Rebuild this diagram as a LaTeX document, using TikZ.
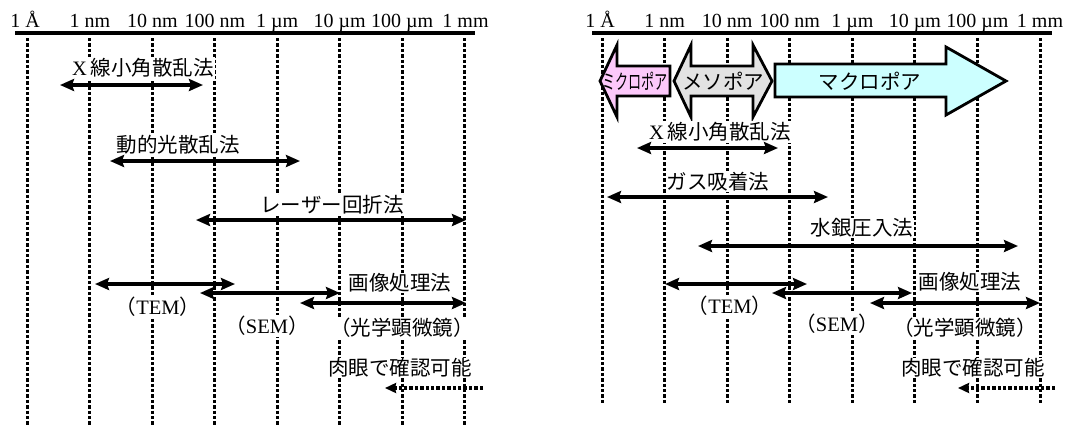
\documentclass[tikz,border=0pt]{standalone}
\usepackage{fontspec}
\setmainfont{Liberation Serif}
\newfontfamily\lat{Liberation Serif}
\newfontfamily\jp{Noto Sans CJK JP}
\usetikzlibrary{arrows.meta}
\definecolor{microc}{RGB}{252,200,250}
\definecolor{mesoc}{RGB}{226,226,226}
\definecolor{macroc}{RGB}{204,255,255}
\begin{document}
\begin{tikzpicture}[x=1bp,y=-1bp,
  grid/.style={line width=3.6bp, dash pattern=on 3.4bp off 2bp},
  axisline/.style={line width=4bp},
  ticklab/.style={anchor=base, inner sep=0pt, font=\fontsize{20bp}{24bp}\selectfont},
  lab/.style={fill=white, inner sep=1bp, font=\jp\fontsize{20.5bp}{24bp}\selectfont},
  blab/.style={inner sep=0pt, font=\jp\fontsize{20.5bp}{24bp}\selectfont},
  rng/.style={line width=3.8bp, {Stealth[length=14bp,width=12bp,inset=2bp]}-{Stealth[length=14bp,width=12bp,inset=2bp]}},
  eye/.style={line width=3.6bp, dash pattern=on 3.4bp off 2bp, -{Stealth[length=11bp,width=10bp,inset=1bp]}},
  blk/.style={line width=2.8bp, line join=miter},
]
\useasboundingbox (0,0) rectangle (1067,430);

% ---------- left panel ----------
\coordinate (LA0) at (15,33); \coordinate (LA1) at (475,33);
\draw[axisline] (LA0) -- (LA1);
\foreach \x [count=\i] in {27.5,89.5,152.5,214.5,277.5,339.5,402.5,464.5}{
  \coordinate (Lt\i) at (\x,38); \coordinate (Lb\i) at (\x,425);
  \draw[grid] (Lt\i) -- (Lb\i);
}
\node[ticklab] (Ll1) at (25,27) {1 Å};
\node[ticklab] (Ll2) at (89.9,27) {1 nm};
\node[ticklab] (Ll3) at (152.3,27) {10 nm};
\node[ticklab] (Ll4) at (214.8,27) {100 nm};
\node[ticklab] (Ll5) at (277.2,27) {1 µm};
\node[ticklab] (Ll6) at (339.6,27) {10 µm};
\node[ticklab] (Ll7) at (402.1,27) {100 µm};
\node[ticklab] (Ll8) at (465.5,27) {1 mm};

\node[lab] (lx) at (143,68) {{\lat X}\hspace{4bp}線小角散乱法};
\node[lab] (ld) at (178,145) {動的光散乱法};
\node[lab] (lr) at (332,205) {レーザー回折法};
\node[lab] (lg) at (400,283) {画像処理法};
\node[lab] (lt) at (158,307) {（{\lat TEM}）};
\node[lab] (ls) at (267,326) {（{\lat SEM}）};
\node[lab] (lo) at (402,328) {（光学顕微鏡）};
\node[lab] (le) at (400,368) {肉眼で確認可能};

\coordinate (a1l) at (60,85);   \coordinate (a1r) at (203,85);
\coordinate (a2l) at (110,161); \coordinate (a2r) at (300,161);
\coordinate (a3l) at (196,220); \coordinate (a3r) at (466,220);
\coordinate (a4l) at (95,284);  \coordinate (a4r) at (235,284);
\coordinate (a5l) at (200,293); \coordinate (a5r) at (340,293);
\coordinate (a6l) at (300,303); \coordinate (a6r) at (466,303);
\coordinate (a7s) at (483,388); \coordinate (a7e) at (385,388);
\draw[rng] (a1l) -- (a1r);
\draw[rng] (a2l) -- (a2r);
\draw[rng] (a3l) -- (a3r);
\draw[rng] (a4l) -- (a4r);
\draw[rng] (a5l) -- (a5r);
\draw[rng] (a6l) -- (a6r);
\draw[eye] (a7s) -- (a7e);

% ---------- right panel ----------
\coordinate (RA0) at (592,33); \coordinate (RA1) at (1052,33);
\draw[axisline] (RA0) -- (RA1);
\foreach \x [count=\i] in {602.5,664.5,727.5,789.5,852.5,914.5,977.5,1040.5}{
  \coordinate (Rt\i) at (\x,38); \coordinate (Rb\i) at (\x,403);
  \draw[grid] (Rt\i) -- (Rb\i);
}
\node[ticklab] (Rl1) at (600,27) {1 Å};
\node[ticklab] (Rl2) at (664.6,27) {1 nm};
\node[ticklab] (Rl3) at (727.1,27) {10 nm};
\node[ticklab] (Rl4) at (789.7,27) {100 nm};
\node[ticklab] (Rl5) at (852.3,27) {1 µm};
\node[ticklab] (Rl6) at (914.9,27) {10 µm};
\node[ticklab] (Rl7) at (977.4,27) {100 µm};
\node[ticklab] (Rl8) at (1040,27) {1 mm};

% block arrows
\draw[blk, fill=microc] (600,81) -- (617,45) -- (617,66) -- (670,66) -- (670,96) -- (617,96) -- (617,117) -- cycle;
\draw[blk, fill=mesoc] (674,81) -- (691,45) -- (691,66) -- (753,66) -- (753,45) -- (772,81) -- (753,117) -- (753,96) -- (691,96) -- (691,117) -- cycle;
\draw[blk, fill=macroc] (775,64) -- (946,64) -- (946,47) -- (1006,81) -- (946,115) -- (946,97) -- (775,97) -- cycle;
\node[blab] (mi) at (635,81) {\scalebox{0.64}[1]{ミクロポア}};
\node[blab] (me) at (723,81) {メソポア};
\node[blab] (ma) at (870,81) {マクロポア};

\node[lab] (rx) at (720,132) {{\lat X}\hspace{4bp}線小角散乱法};
\node[lab] (rgs) at (718,182) {ガス吸着法};
\node[lab] (rhg) at (862,228) {水銀圧入法};
\node[lab] (rg) at (970,282) {画像処理法};
\node[lab] (rt) at (730,306) {（{\lat TEM}）};
\node[lab] (rs) at (837,324) {（{\lat SEM}）};
\node[lab] (ro) at (965,328) {（光学顕微鏡）};
\node[lab] (re) at (973,368) {肉眼で確認可能};

\coordinate (b1l) at (637,148);  \coordinate (b1r) at (778,148);
\coordinate (b2l) at (607,197);  \coordinate (b2r) at (828,197);
\coordinate (b3l) at (698,246);  \coordinate (b3r) at (1018,246);
\coordinate (b4l) at (665,284);  \coordinate (b4r) at (807,284);
\coordinate (b5l) at (772,293);  \coordinate (b5r) at (912,293);
\coordinate (b6l) at (870,303);  \coordinate (b6r) at (1040,303);
\coordinate (b7s) at (1055,388); \coordinate (b7e) at (958,388);
\draw[rng] (b1l) -- (b1r);
\draw[rng] (b2l) -- (b2r);
\draw[rng] (b3l) -- (b3r);
\draw[rng] (b4l) -- (b4r);
\draw[rng] (b5l) -- (b5r);
\draw[rng] (b6l) -- (b6r);
\draw[eye] (b7s) -- (b7e);
\end{tikzpicture}
\end{document}
